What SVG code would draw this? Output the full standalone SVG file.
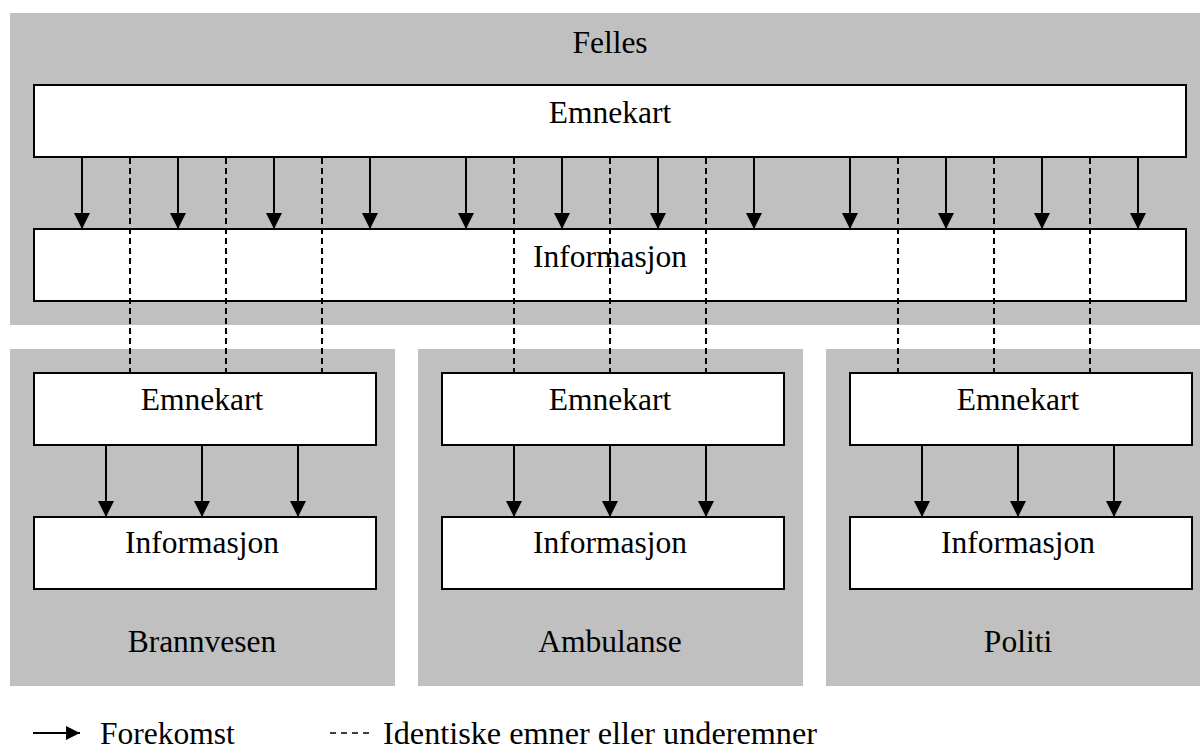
<svg xmlns="http://www.w3.org/2000/svg" width="1200" height="749" viewBox="0 0 1200 749">
  <style>
    .panel { fill: #c0c0c0; stroke: none; }
    .box { fill: #ffffff; stroke: #000000; stroke-width: 2; }
    .lbl { font-family: "Liberation Serif", "Times New Roman", serif; font-size: 31.5px; fill: #000000; text-anchor: middle; }
    .leg { font-family: "Liberation Serif", "Times New Roman", serif; font-size: 31.5px; fill: #000000; }
    .occ { stroke: #000000; stroke-width: 2; fill: none; marker-end: url(#head); }
    .same { stroke: #000000; stroke-width: 2; fill: none; stroke-dasharray: 6 4; }
  </style>
  <defs>
    <marker id="head" markerUnits="userSpaceOnUse" markerWidth="16" markerHeight="16" refX="16" refY="8" orient="auto">
      <path d="M0,0 L16,8 L0,16 Z" fill="#000000"/>
    </marker>
    <marker id="headSmall" markerUnits="userSpaceOnUse" markerWidth="14" markerHeight="14" refX="14" refY="7" orient="auto">
      <path d="M0,0 L14,7 L0,14 Z" fill="#000000"/>
    </marker>
  </defs>

  <!-- shared layer -->
  <g id="felles">
    <rect class="panel" x="10" y="13" width="1190" height="312"/>
    <text class="lbl" x="610" y="53">Felles</text>
  </g>
  <g id="felles-emnekart">
    <rect class="box" x="34" y="85" width="1152" height="72"/>
    <text class="lbl" x="610" y="123">Emnekart</text>
  </g>
  <g id="felles-informasjon">
    <rect class="box" x="34" y="229" width="1152" height="72"/>
    <text class="lbl" x="610" y="267">Informasjon</text>
  </g>

  <!-- agency layers -->
  <g id="brannvesen">
    <rect class="panel" x="10" y="349" width="385" height="337"/>
    <text class="lbl" x="202" y="652">Brannvesen</text>
  </g>
  <g id="brannvesen-emnekart">
    <rect class="box" x="34" y="373" width="342" height="72"/>
    <text class="lbl" x="202" y="410">Emnekart</text>
  </g>
  <g id="brannvesen-informasjon">
    <rect class="box" x="34" y="517" width="342" height="72"/>
    <text class="lbl" x="202" y="553">Informasjon</text>
  </g>

  <g id="ambulanse">
    <rect class="panel" x="418" y="349" width="385" height="337"/>
    <text class="lbl" x="610" y="652">Ambulanse</text>
  </g>
  <g id="ambulanse-emnekart">
    <rect class="box" x="442" y="373" width="342" height="72"/>
    <text class="lbl" x="610" y="410">Emnekart</text>
  </g>
  <g id="ambulanse-informasjon">
    <rect class="box" x="442" y="517" width="342" height="72"/>
    <text class="lbl" x="610" y="553">Informasjon</text>
  </g>

  <g id="politi">
    <rect class="panel" x="826" y="349" width="374" height="337"/>
    <text class="lbl" x="1018" y="652">Politi</text>
  </g>
  <g id="politi-emnekart">
    <rect class="box" x="850" y="373" width="342" height="72"/>
    <text class="lbl" x="1018" y="410">Emnekart</text>
  </g>
  <g id="politi-informasjon">
    <rect class="box" x="850" y="517" width="342" height="72"/>
    <text class="lbl" x="1018" y="553">Informasjon</text>
  </g>

  <!-- connectors -->
  <g id="connectors">
    <!-- occurrences: shared topic map to shared information -->
    <line class="occ" x1="82" y1="158" x2="82" y2="229"/>
    <line class="occ" x1="178" y1="158" x2="178" y2="229"/>
    <line class="occ" x1="274" y1="158" x2="274" y2="229"/>
    <line class="occ" x1="370" y1="158" x2="370" y2="229"/>
    <line class="occ" x1="466" y1="158" x2="466" y2="229"/>
    <line class="occ" x1="562" y1="158" x2="562" y2="229"/>
    <line class="occ" x1="658" y1="158" x2="658" y2="229"/>
    <line class="occ" x1="754" y1="158" x2="754" y2="229"/>
    <line class="occ" x1="850" y1="158" x2="850" y2="229"/>
    <line class="occ" x1="946" y1="158" x2="946" y2="229"/>
    <line class="occ" x1="1042" y1="158" x2="1042" y2="229"/>
    <line class="occ" x1="1138" y1="158" x2="1138" y2="229"/>

    <!-- occurrences inside each agency -->
    <line class="occ" x1="106" y1="446" x2="106" y2="517"/>
    <line class="occ" x1="202" y1="446" x2="202" y2="517"/>
    <line class="occ" x1="298" y1="446" x2="298" y2="517"/>
    <line class="occ" x1="514" y1="446" x2="514" y2="517"/>
    <line class="occ" x1="610" y1="446" x2="610" y2="517"/>
    <line class="occ" x1="706" y1="446" x2="706" y2="517"/>
    <line class="occ" x1="922" y1="446" x2="922" y2="517"/>
    <line class="occ" x1="1018" y1="446" x2="1018" y2="517"/>
    <line class="occ" x1="1114" y1="446" x2="1114" y2="517"/>

    <!-- identical topics or subtopics -->
    <line class="same" x1="130" y1="158" x2="130" y2="372"/>
    <line class="same" x1="226" y1="158" x2="226" y2="372"/>
    <line class="same" x1="322" y1="158" x2="322" y2="372"/>
    <line class="same" x1="514" y1="158" x2="514" y2="372"/>
    <line class="same" x1="610" y1="158" x2="610" y2="372"/>
    <line class="same" x1="706" y1="158" x2="706" y2="372"/>
    <line class="same" x1="898" y1="158" x2="898" y2="372"/>
    <line class="same" x1="994" y1="158" x2="994" y2="372"/>
    <line class="same" x1="1090" y1="158" x2="1090" y2="372"/>
  </g>

  <!-- legend -->
  <g id="legend">
    <line x1="33" y1="733" x2="80" y2="733" stroke="#000000" stroke-width="2" marker-end="url(#headSmall)"/>
    <text class="leg" x="100" y="744">Forekomst</text>
    <line x1="330" y1="733" x2="370" y2="733" stroke="#000000" stroke-width="1.5" stroke-dasharray="6 5"/>
    <text class="leg" x="383" y="744" textLength="434" lengthAdjust="spacingAndGlyphs">Identiske emner eller underemner</text>
  </g>
</svg>
